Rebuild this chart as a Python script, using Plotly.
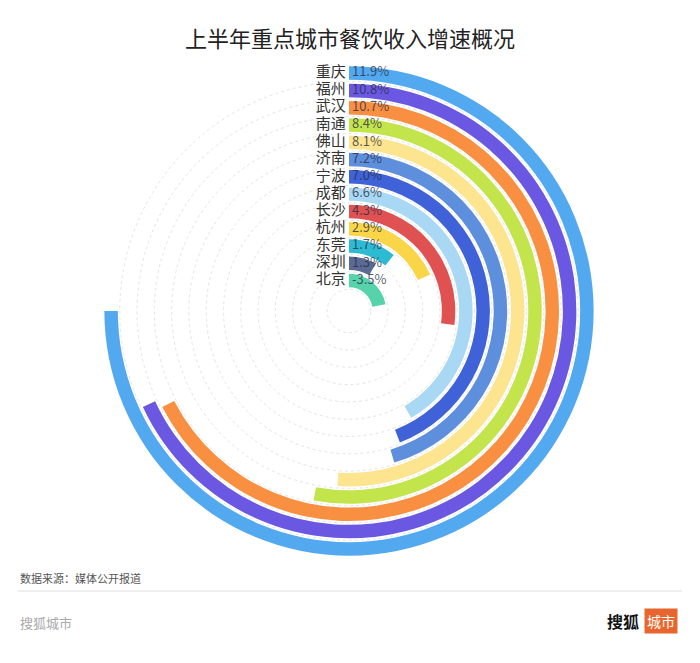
import plotly.graph_objects as go

# ---------------- data ----------------
cities = ["重庆", "福州", "武汉", "南通", "佛山", "济南", "宁波", "成都", "长沙", "杭州", "东莞", "深圳", "北京"]
growth = [11.9, 10.8, 10.7, 8.4, 8.1, 7.2, 7.0, 6.6, 4.3, 2.9, 1.7, 1.3, -3.5]
value_labels = ["11.9%", "10.8%", "10.7%", "8.4%", "8.1%", "7.2%", "7.0%", "6.6%", "4.3%", "2.9%", "1.7%", "1.3%", "-3.5%"]
colors = ["#52a9ef", "#6a58e2", "#f98f40", "#c4e44c", "#fde48e", "#5d8fdd", "#3f62d8",
          "#a9d8f4", "#e05252", "#f9d548", "#2dbad3", "#5b6a92", "#56d3aa"]

title = "上半年重点城市餐饮收入增速概况"
source = "数据来源：媒体公开报道"
brand_left = "搜狐城市"

W, H = 700, 663
FONT = "Noto Sans CJK SC, Noto Sans, sans-serif"

# angular scale: largest value sweeps three quarters of the circle
axis_max = max(abs(v) for v in growth) / 0.75
to_deg = lambda v: abs(v) / axis_max * 360.0

n = len(cities)
ring_k = [n - i for i in range(n)]          # outermost ring = n, innermost = 1
band_off, band_thick = 0.37, 0.78

fig = go.Figure()
for i, c in enumerate(cities):
    d = to_deg(growth[i])
    fig.add_trace(go.Barpolar(
        r=[band_thick], base=[ring_k[i] + band_off], theta=[d / 2], width=[d],
        marker=dict(color=colors[i], line=dict(width=0)),
        hoverinfo="skip", showlegend=False))

centers = [k + band_off + band_thick / 2 for k in ring_k]
fig.add_trace(go.Scatterpolar(
    r=centers, theta=[0] * n, mode="text", text=[c + "&nbsp;" for c in cities],
    textposition="middle left",
    textfont=dict(family=FONT, size=15, color="#333333"), showlegend=False, hoverinfo="skip"))
fig.add_trace(go.Scatterpolar(
    r=centers, theta=[0] * n, mode="text", text=["&nbsp;" + t for t in value_labels],
    textposition="middle right",
    textfont=dict(family=FONT, size=13, color="rgba(40,45,70,0.78)"), showlegend=False, hoverinfo="skip"))

R_units = 14.46
cx, cy, rad = 349, 311, 250
fig.update_layout(
    width=W, height=H, margin=dict(l=0, r=0, t=0, b=0),
    paper_bgcolor="white", plot_bgcolor="white",
    polar=dict(
        domain=dict(x=[(cx - rad) / W, (cx + rad) / W], y=[(H - cy - rad) / H, (H - cy + rad) / H]),
        bgcolor="white",
        bargap=0,
        radialaxis=dict(range=[0, R_units], showline=False, showticklabels=False, ticks="",
                        tickvals=[k + 0.26 for k in range(1, n + 1)],
                        showgrid=True, gridcolor="#e4e4e4", griddash="dot", gridwidth=1,
                        layer="below traces"),
        angularaxis=dict(rotation=90, direction="clockwise", showline=False, showgrid=False,
                         showticklabels=False, ticks=""),
    ),
)

fig.add_annotation(text=title, x=0.5, y=1 - 37 / H, xref="paper", yref="paper",
                   xanchor="center", yanchor="middle", showarrow=False,
                   font=dict(family=FONT, size=22, color="#222222"))
fig.add_annotation(text=source, x=18 / W, y=1 - 578 / H, xref="paper", yref="paper",
                   xanchor="left", yanchor="middle", showarrow=False,
                   font=dict(family=FONT, size=11, color="#555555"))
fig.add_shape(type="line", xref="paper", yref="paper", x0=18 / W, x1=682 / W,
              y0=1 - 591 / H, y1=1 - 591 / H, line=dict(color="#dddddd", width=1))
fig.add_annotation(text=brand_left, x=18 / W, y=1 - 622 / H, xref="paper", yref="paper",
                   xanchor="left", yanchor="middle", showarrow=False,
                   font=dict(family=FONT, size=13, color="#aaaaaa"))
fig.add_annotation(text="<b>搜狐</b>", x=641 / W, y=1 - 621 / H, xref="paper", yref="paper",
                   xanchor="right", yanchor="middle", showarrow=False,
                   font=dict(family=FONT, size=16, color="#111111"))
fig.add_annotation(text="城市", x=678 / W, y=1 - 621 / H, xref="paper", yref="paper",
                   xanchor="right", yanchor="middle", showarrow=False, bgcolor="#e8662e",
                   borderpad=2, font=dict(family=FONT, size=14, color="white"))

fig.write_html("out.html")
